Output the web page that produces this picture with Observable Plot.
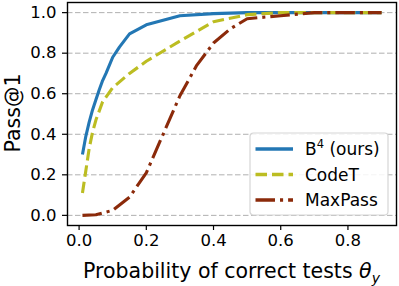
<!DOCTYPE html>
<html><head><meta charset="utf-8">
<script src="https://cdn.jsdelivr.net/npm/d3@7"></script>
<script src="https://cdn.jsdelivr.net/npm/@observablehq/plot@0.6"></script>
<style>
body{margin:0;background:#fff}
svg{font-family:"DejaVu Sans",sans-serif}
</style>
</head><body><div id="chart"></div>
<script>
const seriesNames = ["B⁴ (ours)", "CodeT", "MaxPass"];
const xB4 = [0.01,0.02,0.03,0.04,0.05,0.06,0.07,0.08,0.1,0.12,0.15,0.2,0.3,0.4,0.5,0.6,0.7,0.8,0.9];
const yB4 = [0.30,0.39,0.46,0.52,0.57,0.62,0.665,0.70,0.78,0.83,0.895,0.94,0.985,0.995,1,1,1,1,1];
const xCodeT = [0.01,0.02,0.03,0.04,0.05,0.07,0.1,0.15,0.2,0.3,0.4,0.5,0.6,0.7,0.8,0.9];
const yCodeT = [0.11,0.22,0.33,0.41,0.47,0.56,0.63,0.70,0.76,0.86,0.955,0.99,1,1,1,1];
const xMaxPass = [0.01,0.05,0.1,0.15,0.2,0.25,0.3,0.35,0.4,0.45,0.5,0.6,0.7,0.8,0.9];
const yMaxPass = [0,0.003,0.025,0.09,0.21,0.40,0.59,0.74,0.85,0.92,0.97,0.985,1,1,1];
const xTicks = [0,0.2,0.4,0.6,0.8];
const yTicks = [0,0.2,0.4,0.6,0.8,1.0];
const xLabel = "Probability of correct tests ";
const yLabel = "Pass@1";

const colors = ["#2377b4", "#bcbd22", "#8b2a0a"];
const LW = 3.1;
const dashes = [null, "11.5,5", "19.5,5,3.1,5"];
const toRows = (xs, ys) => xs.map((x, i) => ({x, y: ys[i]}));
const rows = [toRows(xB4, yB4), toRows(xCodeT, yCodeT), toRows(xMaxPass, yMaxPass)];

const W = 399, H = 286;
const fmt = d => d.toFixed(1);
const plot = Plot.plot({
  width: W, height: H,
  marginLeft: 67, marginRight: 3, marginTop: 2, marginBottom: 61,
  style: {fontFamily: "DejaVu Sans", fontSize: "16px", color: "#000", background: "#fff"},
  x: {domain: [-0.0345, 0.9445]},
  y: {domain: [-0.05, 1.05]},
  marks: [
    Plot.gridY(yTicks, {stroke: "#b0b0b0", strokeOpacity: 1, strokeDasharray: "5.5,2.5", strokeWidth: 1}),
    ...rows.map((r, i) => Plot.line(r, {x: "x", y: "y", stroke: colors[i], strokeWidth: LW,
        strokeDasharray: dashes[i], strokeLinecap: "butt", strokeLinejoin: "round"})),
    Plot.axisX({ticks: xTicks, tickFormat: fmt, tickSize: 5, tickPadding: 4, strokeWidth: 1.2, label: null}),
    Plot.axisY({ticks: yTicks, tickFormat: fmt, tickSize: 5, tickPadding: 6, strokeWidth: 1.2, label: null}),
    Plot.frame({stroke: "#000", strokeWidth: 1.4})
  ]
});
document.getElementById("chart").appendChild(plot);

const svg = d3.select(plot);
svg.selectAll("g[aria-label='x-axis tick label'], g[aria-label='y-axis tick label']")
  .attr("font-size", "16.5px").style("font-size", "16.5px").attr("fill", "#000");
svg.selectAll("g[aria-label='x-axis tick label'] text, g[aria-label='y-axis tick label'] text")
  .style("font-size", "16.5px");

// axis labels
const xl = svg.append("text").attr("x", 231.5).attr("y", 278).attr("text-anchor", "middle")
  .attr("font-size", "20.5px").attr("fill", "#000");
xl.append("tspan").text(xLabel);
xl.append("tspan").attr("font-style", "italic").text("θ");
xl.append("tspan").attr("font-style", "italic").attr("font-size", "14px").attr("dy", "5").text("y");

svg.append("text").attr("transform", "translate(20,113) rotate(-90)").attr("text-anchor", "middle")
  .attr("font-size", "20.5px").attr("fill", "#000").text(yLabel);

// legend
const lg = svg.append("g").attr("transform", "translate(250,133)");
lg.append("rect").attr("x", 0).attr("y", 0).attr("width", 138).attr("height", 82)
  .attr("rx", 3.5).attr("fill", "#fff").attr("fill-opacity", 0.85).attr("stroke", "#d6d6d6").attr("stroke-width", 1.2);
seriesNames.forEach((name, i) => {
  const cy = 16 + i * 25.5;
  lg.append("line").attr("x1", 5.5).attr("x2", 43).attr("y1", cy).attr("y2", cy)
    .attr("stroke", colors[i]).attr("stroke-width", LW + 0.3)
    .attr("stroke-dasharray", dashes[i]).attr("stroke-linecap", "butt");
  const t = lg.append("text").attr("x", 55).attr("y", cy).attr("dy", "0.36em")
    .attr("text-anchor", "start").attr("font-size", "17px").attr("fill", "#000");
  if (i === 0) {
    t.append("tspan").text("B");
    t.append("tspan").attr("font-size", "11.5px").attr("dy", "-7").text("4");
    t.append("tspan").attr("dy", "7").text(" (ours)");
  } else t.text(name);
});
</script>
</body></html>
